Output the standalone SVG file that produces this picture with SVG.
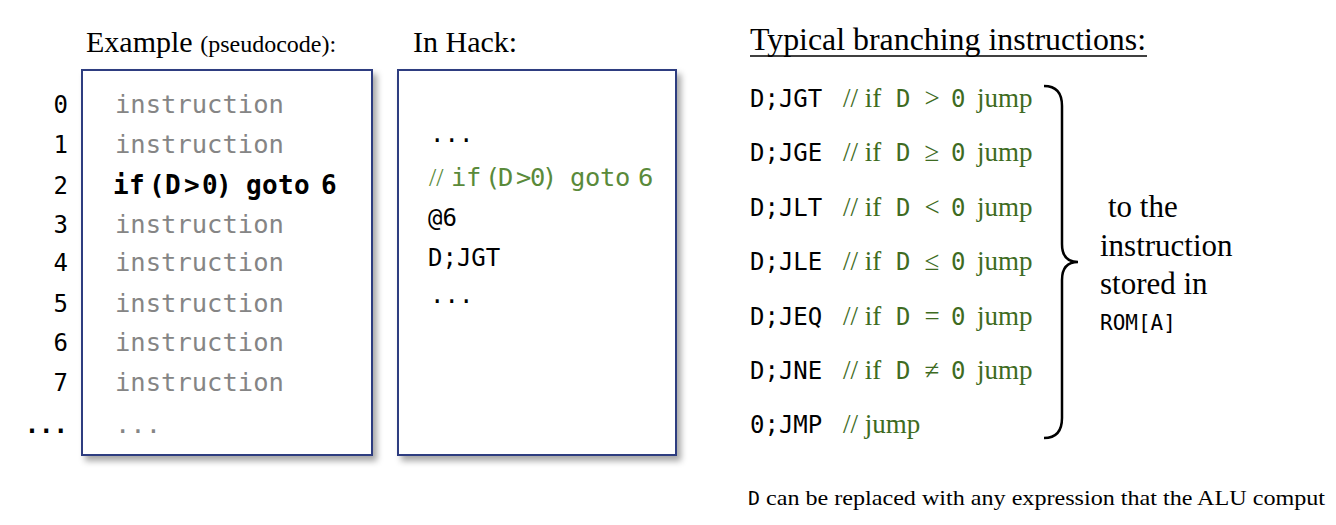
<svg xmlns="http://www.w3.org/2000/svg" width="1336" height="525" viewBox="0 0 1336 525">
<defs>
<filter id="sh" x="-10%" y="-10%" width="130%" height="130%">
<feDropShadow dx="4" dy="5" stdDeviation="3" flood-color="#000" flood-opacity="0.35"/>
</filter>
</defs>
<style>
.serif{font-family:"Liberation Serif","Times New Roman",serif;fill:#000}
.mono{font-family:"DejaVu Sans Mono","Liberation Mono",monospace;fill:#000}
.num{font-family:"DejaVu Sans Mono","Liberation Mono",monospace;font-size:24px;fill:#000;text-anchor:end}
.ins{font-family:"DejaVu Sans Mono","Liberation Mono",monospace;font-size:25.5px;fill:#858585}
.box{fill:#fff;stroke:#2E3D80;stroke-width:2;filter:url(#sh)}
.code{font-family:"DejaVu Sans Mono","Liberation Mono",monospace;font-size:24px;fill:#000}
.cm{font-family:"Liberation Serif","Times New Roman",serif;font-size:27px;fill:#3E6B22}
.cmm{font-family:"DejaVu Sans Mono","Liberation Mono",monospace;font-size:24px;fill:#3E6B22}
.hc{fill:#5A8A3A}
.big{font-family:"Liberation Serif","Times New Roman",serif;font-size:31px;fill:#000}
</style>

<g id="example">
<text class="serif" x="86" y="52" font-size="30">Example <tspan font-size="24">(pseudocode):</tspan></text>
<rect class="box" x="82" y="70" width="290" height="385"/>
<text class="num" x="68" y="113">0</text>
<text class="num" x="68" y="153">1</text>
<text class="num" x="68" y="194">2</text>
<text class="num" x="68" y="233">3</text>
<text class="num" x="68" y="271">4</text>
<text class="num" x="68" y="312">5</text>
<text class="num" x="68" y="351">6</text>
<text class="num" x="68" y="391">7</text>
<text class="num" x="68" y="433" font-weight="bold">...</text>
<text class="ins" x="115" y="113">instruction</text>
<text class="ins" x="115" y="153">instruction</text>
<text class="mono" x="113 129 149 165 184 202 216 246 262 278 294 321" y="194" font-size="26" font-weight="bold">if(D&gt;0)goto6</text>
<text class="ins" x="115" y="233">instruction</text>
<text class="ins" x="115" y="271">instruction</text>
<text class="ins" x="115" y="312">instruction</text>
<text class="ins" x="115" y="351">instruction</text>
<text class="ins" x="115" y="391">instruction</text>
<text class="ins" x="115" y="433">...</text>
</g>

<g id="hack">
<text class="serif" x="413" y="52" font-size="30">In Hack:</text>
<rect class="box" x="398" y="70" width="278" height="385"/>
<text class="code" x="430" y="142">...</text>
<text class="serif hc" x="429" y="186" font-size="26">//</text>
<text class="mono hc" x="451 466 485 498 516 530 542 570 585 600 615 638" y="186" font-size="25.5">if(D&gt;0)goto6</text>
<text class="code" x="428" y="226" font-size="25">@6</text>
<text class="code" x="428" y="266" font-size="25">D;JGT</text>
<text class="code" x="430" y="303">...</text>
</g>

<g id="branching">
<text class="big" x="750" y="50" textLength="396" lengthAdjust="spacingAndGlyphs">Typical branching instructions:</text>
<line x1="750" y1="56" x2="1147" y2="56" stroke="#000" stroke-width="1.5"/>

<text class="code" x="750" y="107" font-size="25">D;JGT</text>
<text class="cm" x="843" y="107">// if</text><text class="cmm" x="896" y="107">D</text><text class="cm" x="932" y="107" text-anchor="middle">&gt;</text><text class="cmm" x="951" y="107">0</text><text class="cm" x="977" y="107">jump</text>

<text class="code" x="750" y="161" font-size="25">D;JGE</text>
<text class="cm" x="843" y="161">// if</text><text class="cmm" x="896" y="161">D</text><text class="cm" x="932" y="161" text-anchor="middle">≥</text><text class="cmm" x="951" y="161">0</text><text class="cm" x="977" y="161">jump</text>

<text class="code" x="750" y="216" font-size="25">D;JLT</text>
<text class="cm" x="843" y="216">// if</text><text class="cmm" x="896" y="216">D</text><text class="cm" x="932" y="216" text-anchor="middle">&lt;</text><text class="cmm" x="951" y="216">0</text><text class="cm" x="977" y="216">jump</text>

<text class="code" x="750" y="270" font-size="25">D;JLE</text>
<text class="cm" x="843" y="270">// if</text><text class="cmm" x="896" y="270">D</text><text class="cm" x="932" y="270" text-anchor="middle">≤</text><text class="cmm" x="951" y="270">0</text><text class="cm" x="977" y="270">jump</text>

<text class="code" x="750" y="325" font-size="25">D;JEQ</text>
<text class="cm" x="843" y="325">// if</text><text class="cmm" x="896" y="325">D</text><text class="cm" x="932" y="325" text-anchor="middle">=</text><text class="cmm" x="951" y="325">0</text><text class="cm" x="977" y="325">jump</text>

<text class="code" x="750" y="379" font-size="25">D;JNE</text>
<text class="cm" x="843" y="379">// if</text><text class="cmm" x="896" y="379">D</text><text class="cm" x="932" y="379" text-anchor="middle">≠</text><text class="cmm" x="951" y="379">0</text><text class="cm" x="977" y="379">jump</text>

<text class="code" x="750" y="433" font-size="25">0;JMP</text>
<text class="cm" x="843" y="433">// jump</text>
</g>

<g id="brace">
<path d="M1044,86 Q1062,86 1062,106 L1062,244 Q1062,262 1078,262 Q1062,262 1062,280 L1062,418 Q1062,438 1044,438" fill="none" stroke="#000" stroke-width="2.5"/>
</g>

<g id="target">
<text class="big" x="1108" y="217">to the</text>
<text class="big" x="1100" y="256">instruction</text>
<text class="big" x="1100" y="294">stored in</text>
<text class="mono" x="1100" y="330" font-size="21">ROM[A]</text>
</g>

<g id="footer">
<text class="mono" x="748" y="505" font-size="20">D</text>
<text class="serif" x="766" y="505" font-size="21" textLength="559" lengthAdjust="spacingAndGlyphs">can be replaced with any expression that the ALU comput</text>
</g>
</svg>
